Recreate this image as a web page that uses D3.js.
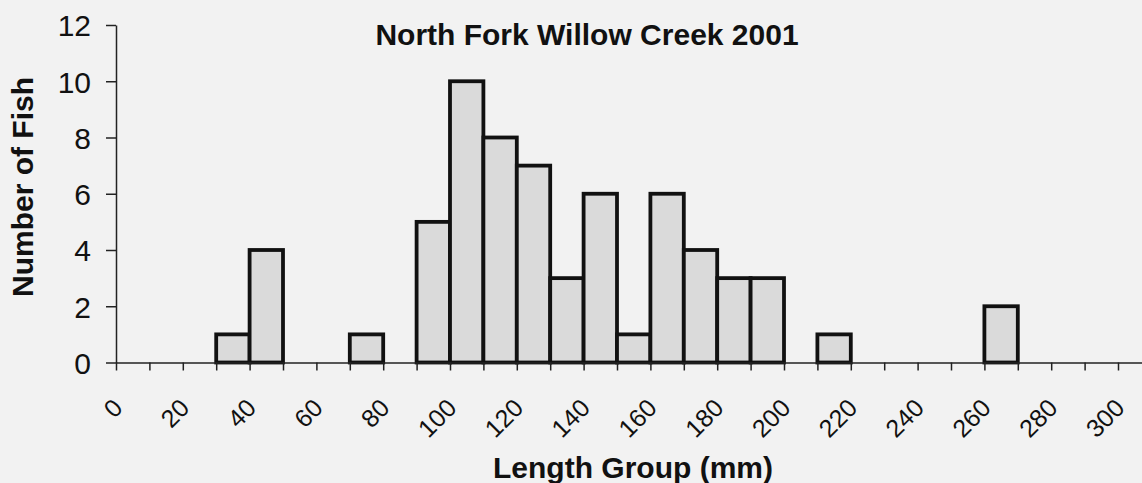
<!DOCTYPE html>
<html>
<head>
<meta charset="utf-8">
<script src="https://cdn.jsdelivr.net/npm/d3@7/dist/d3.min.js"></script>
<style>
  html, body { margin: 0; padding: 0; background: #f2f2f2; }
  svg { display: block; }
  text { font-family: "Liberation Sans", Arial, sans-serif; fill: #111; }
</style>
</head>
<body>
<svg id="chart" width="1142" height="483"></svg>
<script>
// Length-frequency histogram: lower bound of each 10 mm length group and fish count
const binStarts = [30, 40, 70, 90, 100, 110, 120, 130, 140, 150, 160, 170, 180, 190, 210, 260];
const fishCounts = [1, 4, 1, 5, 10, 8, 7, 3, 6, 1, 6, 4, 3, 3, 1, 2];
const binWidth = 10;

const xTickValues = d3.range(0, 301, 10);
const xLabelValues = d3.range(0, 301, 20);
const yTickValues = [0, 2, 4, 6, 8, 10, 12];

const titleText = "North Fork Willow Creek 2001";
const xTitle = "Length Group (mm)";
const yTitle = "Number of Fish";

const W = 1142, H = 483;
const svg = d3.select("#chart");

svg.append("rect").attr("width", W).attr("height", H).attr("fill", "#f2f2f2");

// Category axis continues past the last labelled group
const x = d3.scaleLinear().domain([0, 310]).range([116, 116 + 31 * 33.4]);
const y = d3.scaleLinear().domain([0, 12]).range([362.5, 25]);

// Bars
svg.append("g")
  .selectAll("rect")
  .data(binStarts.map((b, i) => ({ b, v: fishCounts[i] })))
  .join("rect")
  .attr("x", d => x(d.b))
  .attr("width", d => x(d.b + binWidth) - x(d.b))
  .attr("y", d => y(d.v))
  .attr("height", d => y(0) - y(d.v))
  .attr("fill", "#dadada")
  .attr("stroke", "#111")
  .attr("stroke-width", 3.8);

// X axis: tick marks at every group boundary, labels every 20 mm
const xAxis = svg.append("g")
  .attr("transform", `translate(0,${y(0)})`)
  .call(d3.axisBottom(x).tickValues(xTickValues).tickSize(8).tickSizeOuter(0).tickFormat(""));
xAxis.select(".domain").attr("stroke", "#222").attr("stroke-width", 1.5);
xAxis.selectAll(".tick line").attr("stroke", "#222").attr("stroke-width", 1.5);

svg.append("g")
  .selectAll("text")
  .data(xLabelValues)
  .join("text")
  .attr("transform", d => `translate(${x(d) + 8},${y(0) + 47}) rotate(-45)`)
  .attr("text-anchor", "end")
  .attr("font-size", 25)
  .text(d => d);

// Y axis
const yAxis = svg.append("g")
  .attr("transform", `translate(${x(0)},0)`)
  .call(d3.axisLeft(y).tickValues(yTickValues).tickSize(10).tickSizeOuter(0).tickPadding(15));
yAxis.select(".domain").attr("stroke", "#222").attr("stroke-width", 1.5);
yAxis.selectAll(".tick line").attr("stroke", "#222").attr("stroke-width", 1.5);
yAxis.selectAll(".tick text")
  .attr("font-size", 30)
  .attr("font-family", "Liberation Sans, Arial, sans-serif")
  .attr("fill", "#111")
  .attr("dy", "0.36em");

// Titles
svg.append("text")
  .attr("x", 587).attr("y", 45)
  .attr("text-anchor", "middle")
  .attr("font-size", 30).attr("font-weight", "bold")
  .text(titleText);

svg.append("text")
  .attr("x", 633).attr("y", 478)
  .attr("text-anchor", "middle")
  .attr("font-size", 30).attr("font-weight", "bold")
  .text(xTitle);

svg.append("text")
  .attr("transform", "translate(33,187) rotate(-90)")
  .attr("text-anchor", "middle")
  .attr("font-size", 30).attr("font-weight", "bold")
  .text(yTitle);
</script>
</body>
</html>
